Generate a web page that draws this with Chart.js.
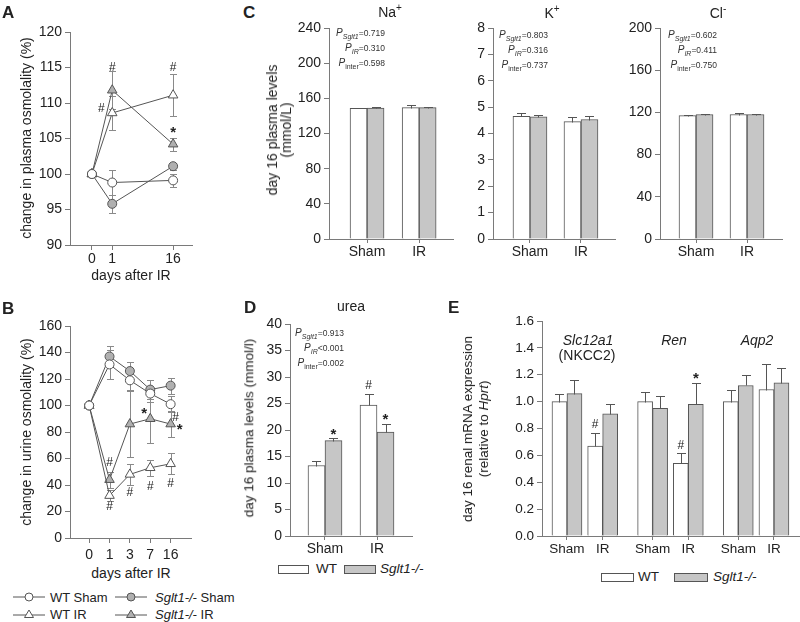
<!DOCTYPE html>
<html>
<head>
<meta charset="utf-8">
<script src="https://cdn.jsdelivr.net/npm/chart.js@4"></script>
<style>
body{margin:0;background:#fff;}
#fig{position:relative;width:800px;height:622px;overflow:hidden;background:#fff;
  font-family:"Liberation Sans",Arial,sans-serif;color:#222;}
#fig canvas{position:absolute;}
.t{position:absolute;white-space:nowrap;line-height:1;}
.L{font-weight:bold;font-size:17px;}
.rot{transform:translate(-50%,-50%) rotate(-90deg);text-align:center;}
.ctr{transform:translate(-50%,-50%);text-align:center;}
.pv{position:absolute;text-align:right;line-height:14px;font-size:8.5px;color:#333;white-space:nowrap;}
.pv i.P{font-size:10px;}
.sb{font-size:7px;position:relative;top:3px;}
.box{position:absolute;height:7px;border:1px solid #555;}
.leg{position:absolute;font-size:13px;line-height:1;white-space:nowrap;}
.leg svg{position:absolute;}
</style>
</head>
<body>
<div id="fig">
  <canvas id="cA" width="200" height="250" style="left:0;top:20px"></canvas>
  <canvas id="cB" width="200" height="250" style="left:0;top:310px"></canvas>
  <canvas id="cNa" width="170" height="245" style="left:290px;top:15px"></canvas>
  <canvas id="cK" width="170" height="245" style="left:455px;top:15px"></canvas>
  <canvas id="cCl" width="175" height="245" style="left:620px;top:15px"></canvas>
  <canvas id="cD" width="170" height="250" style="left:250px;top:310px"></canvas>
  <canvas id="cE" width="310" height="255" style="left:490px;top:305px"></canvas>

  <div class="t L" style="left:2px;top:4px">A</div>
  <div class="t L" style="left:2px;top:300px">B</div>
  <div class="t L" style="left:243px;top:4px">C</div>
  <div class="t L" style="left:244px;top:299px">D</div>
  <div class="t L" style="left:448px;top:299px">E</div>

  <div class="t rot" style="left:26px;top:138px;font-size:14px">change in plasma osmolality (%)</div>
  <div class="t ctr" style="left:131px;top:275px;font-size:14px">days after IR</div>
  <div class="t rot" style="left:26px;top:432px;font-size:14px">change in urine osmolality (%)</div>
  <div class="t ctr" style="left:131px;top:573px;font-size:14px">days after IR</div>

  <div class="t rot" style="left:279px;top:130px;font-size:14px;line-height:14px">day 16 plasma levels<br>(mmol/L)</div>
  <div class="t ctr" style="left:390px;top:11px;font-size:14px">Na<sup style="font-size:10px">+</sup></div>
  <div class="t ctr" style="left:552px;top:12px;font-size:14px">K<sup style="font-size:10px">+</sup></div>
  <div class="t ctr" style="left:718px;top:12px;font-size:14px">Cl<sup style="font-size:10px">-</sup></div>

  <div class="pv" style="right:415px;top:26px"><i class="P">P</i><span class="sb"><i>Sglt1</i></span>=0.719<br><i class="P">P</i><span class="sb"><i>IR</i></span>=0.310<br><i class="P">P</i><span class="sb">inter</span>=0.598</div>
  <div class="pv" style="right:252px;top:28px"><i class="P">P</i><span class="sb"><i>Sglt1</i></span>=0.803<br><i class="P">P</i><span class="sb"><i>IR</i></span>=0.316<br><i class="P">P</i><span class="sb">inter</span>=0.737</div>
  <div class="pv" style="right:83px;top:28px"><i class="P">P</i><span class="sb"><i>Sglt1</i></span>=0.602<br><i class="P">P</i><span class="sb"><i>IR</i></span>=0.411<br><i class="P">P</i><span class="sb">inter</span>=0.750</div>

  <div class="t ctr" style="left:351px;top:306px;font-size:14px">urea</div>
  <div class="t rot" style="left:249px;top:428px;font-size:13.5px">day 16 plasma levels (mmol/l)</div>
  <div class="pv" style="right:456px;top:326px"><i class="P">P</i><span class="sb"><i>Sglt1</i></span>=0.913<br><i class="P">P</i><span class="sb"><i>IR</i></span>&lt;0.001<br><i class="P">P</i><span class="sb">inter</span>=0.002</div>

  <div class="t rot" style="left:476px;top:429px;font-size:13.5px;line-height:16px">day 16 renal mRNA expression<br>(relative to <i>Hprt</i>)</div>
  <div class="t ctr" style="left:588px;top:340px;font-size:14px"><i>Slc12a1</i></div>
  <div class="t ctr" style="left:587px;top:355px;font-size:14px">(NKCC2)</div>
  <div class="t ctr" style="left:674px;top:340px;font-size:14px"><i>Ren</i></div>
  <div class="t ctr" style="left:757px;top:340px;font-size:14px"><i>Aqp2</i></div>

  <!-- legend A/B -->
  <div class="leg" style="left:13px;top:591px"><svg width="32" height="12" style="left:0;top:0"><line x1="0" y1="6" x2="32" y2="6" stroke="#555"/><circle cx="16" cy="6" r="4" fill="#fff" stroke="#555"/></svg><span style="position:absolute;left:37px;top:0">WT Sham</span></div>
  <div class="leg" style="left:115px;top:591px"><svg width="32" height="12" style="left:0;top:0"><line x1="0" y1="6" x2="32" y2="6" stroke="#555"/><circle cx="16" cy="6" r="4" fill="#b0b0b0" stroke="#555"/></svg><span style="position:absolute;left:40px;top:0"><i>Sglt1-/-</i> Sham</span></div>
  <div class="leg" style="left:13px;top:608px"><svg width="32" height="12" style="left:0;top:0"><line x1="0" y1="7" x2="32" y2="7" stroke="#555"/><polygon points="16,2 20.5,9.5 11.5,9.5" fill="#fff" stroke="#555"/></svg><span style="position:absolute;left:37px;top:0">WT IR</span></div>
  <div class="leg" style="left:115px;top:608px"><svg width="32" height="12" style="left:0;top:0"><line x1="0" y1="7" x2="32" y2="7" stroke="#555"/><polygon points="16,2 20.5,9.5 11.5,9.5" fill="#b0b0b0" stroke="#555"/></svg><span style="position:absolute;left:40px;top:0"><i>Sglt1-/-</i> IR</span></div>

  <!-- legend D -->
  <div class="box" style="left:278px;top:565px;width:29px;background:#fff"></div>
  <div class="t" style="left:316px;top:562px;font-size:13.5px">WT</div>
  <div class="box" style="left:344px;top:565px;width:30px;background:#c6c6c6"></div>
  <div class="t" style="left:380px;top:562px;font-size:13.5px"><i>Sglt1-/-</i></div>
  <!-- legend E -->
  <div class="box" style="left:601px;top:573px;width:31px;background:#fff"></div>
  <div class="t" style="left:638px;top:570px;font-size:13.5px">WT</div>
  <div class="box" style="left:674px;top:573px;width:32px;background:#c6c6c6"></div>
  <div class="t" style="left:713px;top:570px;font-size:13.5px"><i>Sglt1-/-</i></div>
</div>

<script>
// ---- data ----
// A: plasma osmolality, % of day 0
const A_DAYS = ['0', '1', '16'];
const A_WT_SHAM = [100, 98.8, 99.1];
const A_WT_SHAM_SE = [0, 1.8, 0.9];
const A_KO_SHAM = [100, 95.8, 101.1];
const A_KO_SHAM_SE = [0, 1.3, 0.5];
const A_WT_IR = [100, 108.6, 111.1];
const A_WT_IR_SE = [0, 2.4, 3.0];
const A_KO_IR = [100, 111.8, 104.2];
const A_KO_IR_SE = [0, 2.7, 0.9];

// B: urine osmolality, % of day 0
const B_DAYS = ['0', '1', '3', '7', '16'];
const B_WT_SHAM = [100, 131, 119, 109, 101];
const B_WT_SHAM_SE = [0, 11, 7, 6, 6];
const B_KO_SHAM = [100, 137, 126, 112, 115];
const B_KO_SHAM_SE = [0, 8, 7, 7, 6];
const B_WT_IR = [100, 32, 48, 53, 56];
const B_WT_IR_SE = [0, 4, 8, 6, 8];
const B_KO_IR = [100, 44, 86, 90, 86];
const B_KO_IR_SE = [0, 6, 25, 18, 10];

// C: day 16 plasma electrolytes
const C_GROUPS = ['Sham', 'IR'];
const NA_WT = [148.5, 149.5], NA_WT_SE = [0.6, 2.5];
const NA_KO = [149, 149.5], NA_KO_SE = [0.6, 0.8];
const K_WT = [4.65, 4.45], K_WT_SE = [0.13, 0.19];
const K_KO = [4.63, 4.53], K_KO_SE = [0.07, 0.13];
const CL_WT = [117, 118], CL_WT_SE = [0.5, 1.6];
const CL_KO = [118, 118], CL_KO_SE = [0.6, 0.5];

// D: urea
const D_WT = [13.3, 24.7], D_WT_SE = [0.9, 2.1];
const D_KO = [18.0, 19.6], D_KO_SE = [0.4, 1.5];

// E: renal mRNA
const E_GROUPS = ['Sham', 'IR', 'Sham', 'IR', 'Sham', 'IR'];
const E_WT = [1.00, 0.67, 1.00, 0.54, 1.00, 1.09];
const E_WT_SE = [0.06, 0.10, 0.075, 0.075, 0.085, 0.19];
const E_KO = [1.06, 0.91, 0.95, 0.98, 1.12, 1.14];
const E_KO_SE = [0.10, 0.075, 0.095, 0.16, 0.075, 0.11];

// significance marks
const A_MARKS = [{x:1, y:115, t:'#'}, {x:1, y:109.2, t:'#', dx:-11}, {x:2, y:115, t:'#'}, {x:2, y:106.3, t:'*'}];
const B_MARKS = [{x:1, y:56.5, t:'#'}, {x:1, y:23.5, t:'#'}, {x:2, y:34.5, t:'#'}, {x:3, y:38.5, t:'#'},
  {x:4, y:41, t:'#'}, {x:3, y:96.5, t:'*', dx:-6}, {x:4, y:90.5, t:'#', dx:5}, {x:4, y:85, t:'*', dx:9}];
const D_MARKS = [{ds:1, i:0, t:'*'}, {ds:0, i:1, t:'#'}, {ds:1, i:1, t:'*'}];
const E_MARKS = [{ds:0, i:1, t:'#'}, {ds:0, i:3, t:'#'}, {ds:1, i:3, t:'*'}];

// ---- layout (x slots on the index axis) ----
const A_SLOTS = [0, 1, 4];          // day 16 sits after a broken axis
const B_SLOTS = [0, 1, 2, 3, 4];
const PAIR_SLOTS = [0, 1];
const E_SLOTS = [0, 1, 2.4, 3.4, 4.8, 5.8];

const FONT = '"Liberation Sans", Arial, sans-serif';
const AXIS = '#7a7a7a', LINE = '#555', EDGE = '#555', GRAY = '#c6c6c6', MARK_GRAY = '#b0b0b0';
Chart.defaults.font.family = FONT;
Chart.defaults.color = '#222';

function yAxis(min, max, step, width, size, fmt){
  return {
    min, max,
    ticks:{stepSize:step, font:{size}, padding:3, callback: fmt || (v => v)},
    grid:{drawOnChartArea:false, drawTicks:true, tickLength:5, color:AXIS},
    border:{color:AXIS},
    afterFit: s => { s.width = width; }
  };
}
function xAxis(min, max, slots, labels, height, size, tickLen, pad){
  return {
    type:'linear', min, max, offset:false,
    afterBuildTicks: s => { s.ticks = slots.map(v => ({value:v})); },
    ticks:{font:{size}, padding:pad, maxRotation:0, autoSkip:false, callback:(v, i) => labels[i]},
    grid:{drawOnChartArea:false, drawTicks:true, tickLength:tickLen, color:AXIS, offset:false},
    border:{color:AXIS},
    afterFit: s => { s.height = height; }
  };
}
function baseOpts(pad){
  return {
    responsive:false, animation:false, devicePixelRatio:1,
    layout:{padding:pad, autoPadding:false},
    plugins:{legend:{display:false}, tooltip:{enabled:false}}
  };
}

// error bars through the y scale
function errorBars(errs, upOnly, color, cap){
  const draw = chart => {
    const ctx = chart.ctx, ys = chart.scales.y;
    ctx.save();
    ctx.strokeStyle = color; ctx.lineWidth = 1;
    errs.forEach((arr, d) => {
      const meta = chart.getDatasetMeta(d);
      meta.data.forEach((el, i) => {
        const e = arr[i];
        if(!e) return;
        const v = chart.data.datasets[d].data[i].y;
        const x = Math.round(el.x) + 0.5;
        const top = Math.round(ys.getPixelForValue(v + e)) + 0.5;
        const bot = Math.round(ys.getPixelForValue(upOnly ? v : v - e)) + 0.5;
        ctx.beginPath();
        ctx.moveTo(x, top); ctx.lineTo(x, bot);
        ctx.moveTo(x - cap, top); ctx.lineTo(x + cap, top);
        if(!upOnly){ ctx.moveTo(x - cap, bot); ctx.lineTo(x + cap, bot); }
        ctx.stroke();
      });
    });
    ctx.restore();
  };
  return upOnly ? {id:'errbars', afterDatasetsDraw:draw} : {id:'errbars', beforeDatasetsDraw:draw};
}

function markFont(t){ return t === '*' ? 'bold 15px ' + FONT : '12px ' + FONT; }

// # and * placed at data coordinates (line charts)
function lineMarks(list, slots){
  return {id:'marks', afterDatasetsDraw(chart){
    const ctx = chart.ctx, xs = chart.scales.x, ys = chart.scales.y;
    ctx.save(); ctx.fillStyle = '#222'; ctx.textAlign = 'center'; ctx.textBaseline = 'middle';
    list.forEach(m => {
      ctx.font = markFont(m.t);
      ctx.fillText(m.t, xs.getPixelForValue(slots[m.x]) + (m.dx || 0), ys.getPixelForValue(m.y) + (m.t === '*' ? 4 : 0));
    });
    ctx.restore();
  }};
}
// # and * above a bar's error bar
function barMarks(list, errs){
  return {id:'marks', afterDatasetsDraw(chart){
    const ctx = chart.ctx, ys = chart.scales.y;
    ctx.save(); ctx.fillStyle = '#222'; ctx.textAlign = 'center'; ctx.textBaseline = 'middle';
    list.forEach(m => {
      const el = chart.getDatasetMeta(m.ds).data[m.i];
      const v = chart.data.datasets[m.ds].data[m.i].y + errs[m.ds][m.i];
      ctx.font = markFont(m.t);
      ctx.fillText(m.t, el.x, ys.getPixelForValue(v) - 8 + (m.t === '*' ? 4 : 0));
    });
    ctx.restore();
  }};
}

function lineSet(slots, vals, shape, fill){
  return {
    data: slots.map((p, i) => ({x:p, y:vals[i]})),
    borderColor:LINE, borderWidth:1, tension:0, clip:false,
    pointStyle:shape, pointRadius: shape === 'triangle' ? 5.5 : 4.5,
    pointBackgroundColor:fill, pointBorderColor:LINE, pointBorderWidth:1
  };
}

function lineChart(id, o){
  const opts = baseOpts(o.pad);
  opts.scales = {x: xAxis(o.xmin, o.xmax, o.slots, o.labels, o.xh, 14, 5, o.xpad), y: yAxis(o.ymin, o.ymax, o.step, 70, 14)};
  return new Chart(document.getElementById(id), {
    type:'line',
    data:{datasets:[
      lineSet(o.slots, o.wtSham, 'circle', '#fff'),
      lineSet(o.slots, o.koSham, 'circle', MARK_GRAY),
      lineSet(o.slots, o.wtIr, 'triangle', '#fff'),
      lineSet(o.slots, o.koIr, 'triangle', MARK_GRAY)
    ]},
    options:opts,
    plugins:[errorBars(o.errs, false, '#8a8a8a', 3.5), lineMarks(o.marks, o.slots)]
  });
}

function barChart(id, o){
  const opts = baseOpts(o.pad);
  opts.scales = {
    x: xAxis(o.xmin, o.xmax, o.slots, o.labels, o.xh, o.fs, 4, o.xpad),
    y: yAxis(o.ymin, o.ymax, o.step, o.yw, o.fs, o.fmt)
  };
  const set = (vals, fill) => ({
    data: o.slots.map((p, i) => ({x:p, y:vals[i]})),
    backgroundColor:fill, borderColor:EDGE, borderWidth:1, borderSkipped:'bottom', barThickness:o.bw
  });
  return new Chart(document.getElementById(id), {
    type:'bar',
    data:{datasets:[set(o.wt, '#fff'), set(o.ko, GRAY)]},
    options:opts,
    plugins:[errorBars([o.wtSe, o.koSe], true, EDGE, 4.5), barMarks(o.marks || [], [o.wtSe, o.koSe])]
  });
}

lineChart('cA', {
  slots:A_SLOTS, labels:A_DAYS, xmin:-1.08, xmax:4.93, xh:25, xpad:1,
  ymin:90, ymax:120, step:5, pad:{top:12, right:8, left:0, bottom:0},
  wtSham:A_WT_SHAM, koSham:A_KO_SHAM, wtIr:A_WT_IR, koIr:A_KO_IR,
  errs:[A_WT_SHAM_SE, A_KO_SHAM_SE, A_WT_IR_SE, A_KO_IR_SE], marks:A_MARKS
});
lineChart('cB', {
  slots:B_SLOTS, labels:B_DAYS, xmin:-0.94, xmax:5.0, xh:22, xpad:4,
  ymin:0, ymax:160, step:20, pad:{top:16, right:9, left:0, bottom:0},
  wtSham:B_WT_SHAM, koSham:B_KO_SHAM, wtIr:B_WT_IR, koIr:B_KO_IR,
  errs:[B_WT_SHAM_SE, B_KO_SHAM_SE, B_WT_IR_SE, B_KO_IR_SE], marks:B_MARKS
});

barChart('cNa', {slots:PAIR_SLOTS, labels:C_GROUPS, xmin:-0.73, xmax:1.65, xh:21, xpad:1, fs:14, bw:17,
  ymin:0, ymax:240, step:40, yw:39, pad:{top:13, right:7, left:0, bottom:0},
  wt:NA_WT, wtSe:NA_WT_SE, ko:NA_KO, koSe:NA_KO_SE});
barChart('cK', {slots:PAIR_SLOTS, labels:C_GROUPS, xmin:-0.725, xmax:1.667, xh:21, xpad:1, fs:14, bw:17,
  ymin:0, ymax:8, step:1, yw:38, pad:{top:13, right:10, left:0, bottom:0},
  wt:K_WT, wtSe:K_WT_SE, ko:K_KO, koSe:K_KO_SE});
barChart('cCl', {slots:PAIR_SLOTS, labels:C_GROUPS, xmin:-0.706, xmax:1.686, xh:21, xpad:1, fs:14, bw:17,
  ymin:0, ymax:200, step:40, yw:40, pad:{top:13, right:13, left:0, bottom:0},
  wt:CL_WT, wtSe:CL_WT_SE, ko:CL_KO, koSe:CL_KO_SE});
barChart('cD', {slots:PAIR_SLOTS, labels:C_GROUPS, xmin:-0.673, xmax:1.673, xh:24, xpad:1, fs:14, bw:17,
  ymin:0, ymax:40, step:5, yw:40, pad:{top:14, right:8, left:0, bottom:0},
  wt:D_WT, wtSe:D_WT_SE, ko:D_KO, koSe:D_KO_SE, marks:D_MARKS});
barChart('cE', {slots:E_SLOTS, labels:E_GROUPS, xmin:-0.70, xmax:6.53, xh:24, xpad:1, fs:13.5, bw:15,
  ymin:0, ymax:1.6, step:0.2, yw:52, pad:{top:16, right:0, left:0, bottom:0}, fmt: v => v.toFixed(1),
  wt:E_WT, wtSe:E_WT_SE, ko:E_KO, koSe:E_KO_SE, marks:E_MARKS});
</script>
</body>
</html>
